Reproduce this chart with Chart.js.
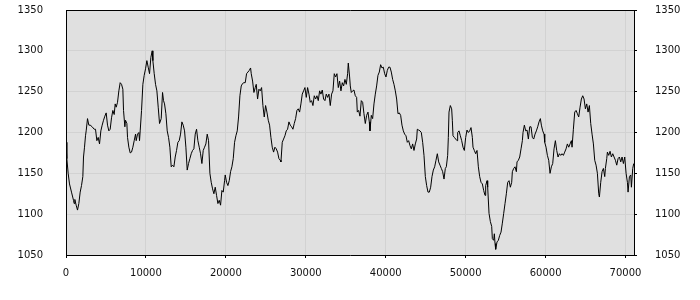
<!DOCTYPE html>
<html>
<head>
<meta charset="utf-8">
<script src="https://cdn.jsdelivr.net/npm/chart.js@4.4.1/dist/chart.umd.min.js"></script>
<style>
  body { margin: 0; background: #fff; }
  canvas { display: block; }
</style>
</head>
<body>
<canvas id="myChart" width="700" height="300"></canvas>
<script>
// Posiciones (eje x), por tramos
const posA = [
  0, 104, 271, 438, 688, 939, 1022, 1105, 1272, 1439,
  1606, 1773, 1940, 2107, 2190, 2315, 2440, 2524, 2691, 2858,
  3025, 3275, 3525, 3692, 3859, 4026, 4193, 4360, 4527, 4693,
  4860, 5027, 5194, 5361, 5528, 5695, 5862, 6028, 6154, 6279,
  6446, 6613, 6779, 6946, 7113, 7197, 7364, 7447, 7614, 7697,
  7864, 8031, 8198, 8365, 8532, 8699, 8782, 8949, 9116, 9199,
  9283, 9450, 9616, 9783, 9950, 10117, 10284, 10451, 10618, 10784,
  10868, 11035, 11202, 11369, 11536, 11702
];
const valA = [
  1188, 1168, 1150, 1137, 1127, 1117, 1113, 1118, 1111, 1105,
  1113, 1127, 1135, 1146, 1170, 1182, 1196, 1202, 1217, 1209,
  1209, 1207, 1204, 1204, 1190, 1194, 1186, 1202, 1209, 1215,
  1220, 1224, 1209, 1202, 1204, 1218, 1227, 1222, 1235, 1231,
  1237, 1251, 1261, 1259, 1253, 1227, 1207, 1215, 1211, 1194,
  1182, 1175, 1176, 1182, 1190, 1198, 1190, 1198, 1200, 1190,
  1202, 1227, 1259, 1270, 1278, 1288, 1280, 1272, 1292, 1300,
  1288, 1272, 1259, 1251, 1231, 1211
];

const posB = [
  11911, 12078, 12203, 12328, 12495, 12662, 12829, 12995, 13162, 13329,
  13496, 13663, 13830, 13997, 14164, 14331, 14497, 14664, 14831, 14998,
  15165, 15332, 15499, 15666, 15832, 15999, 16166, 16333, 16500, 16667,
  16834, 17001, 17167, 17334, 17501, 17668, 17835, 18002, 18169, 18336,
  18503, 18669, 18836, 19003, 19170, 19337, 19504, 19671, 19838, 19921,
  20088, 20255, 20422, 20589, 20755, 20922, 21089, 21256, 21423, 21590,
  21757, 21924, 22090, 22257, 22424, 22591, 22758, 22925, 23092, 23175,
  23342, 23509, 23676
];
const valB = [
  1217, 1249, 1239, 1235, 1223, 1202, 1194, 1182, 1158, 1160,
  1158, 1170, 1178, 1188, 1190, 1198, 1213, 1209, 1202, 1182,
  1154, 1162, 1168, 1174, 1178, 1180, 1198, 1204, 1190, 1182,
  1174, 1162, 1178, 1182, 1186, 1198, 1190, 1150, 1139, 1131,
  1125, 1133, 1123, 1113, 1117, 1111, 1129, 1127, 1141, 1148,
  1139, 1135, 1141, 1152, 1158, 1168, 1188, 1196, 1202, 1219,
  1245, 1257, 1260, 1261, 1261, 1272, 1274, 1276, 1279, 1272,
  1263, 1249, 1255
];

const posC = [
  23801, 23968, 24135, 24301, 24468, 24635, 24802, 24969, 25136, 25303,
  25470, 25636, 25803, 25970, 26137, 26304, 26471, 26638, 26805, 26888,
  27055, 27222, 27389, 27556, 27722, 27889, 28056, 28223, 28390, 28557,
  28724, 28891, 29057, 29224, 29391, 29558, 29725, 29892, 30059, 30226,
  30393, 30559, 30726, 30893, 31060, 31227, 31394, 31561, 31728, 31894,
  32061, 32228, 32395, 32562, 32729, 32896, 33063, 33229, 33396, 33563,
  33730, 33897, 34064, 34231, 34398, 34565, 34731, 34898, 35065, 35232,
  35315, 35482, 35566
];
const valC = [
  1259, 1241, 1253, 1251, 1255, 1233, 1219, 1233, 1225, 1215,
  1209, 1194, 1182, 1176, 1182, 1180, 1176, 1168, 1166, 1164,
  1188, 1192, 1196, 1202, 1204, 1213, 1209, 1207, 1204, 1211,
  1217, 1227, 1229, 1225, 1235, 1247, 1251, 1255, 1243, 1255,
  1247, 1237, 1239, 1233, 1245, 1241, 1245, 1239, 1251, 1247,
  1252, 1241, 1239, 1247, 1243, 1247, 1233, 1247, 1251, 1272,
  1268, 1272, 1255, 1263, 1251, 1261, 1257, 1265, 1259, 1272,
  1285, 1268, 1257
];

const posD = [
  35692, 35859, 36026, 36192, 36359, 36443, 36610, 36776, 36943, 37110,
  37277, 37444, 37611, 37778, 37945, 38028, 38195, 38362, 38529, 38696,
  38862, 39029, 39196, 39363, 39530, 39697, 39864, 40031, 40198, 40364,
  40531, 40698, 40865, 41032, 41199, 41366, 41533, 41699, 41866, 42033,
  42200, 42367, 42534, 42701, 42868, 43034, 43201, 43368, 43535, 43702,
  43869, 43952, 44119, 44286, 44453, 44620, 44787, 44954, 45120, 45287,
  45454, 45621, 45788, 45955, 46122, 46289, 46456, 46622, 46789, 46956,
  47123, 47290, 47457
];
const valD = [
  1249, 1251, 1252, 1245, 1243, 1225, 1227, 1220, 1239, 1237,
  1223, 1211, 1221, 1225, 1213, 1202, 1221, 1217, 1235, 1247,
  1257, 1270, 1274, 1283, 1279, 1280, 1272, 1268, 1276, 1280,
  1280, 1274, 1265, 1259, 1251, 1241, 1223, 1224, 1221, 1209,
  1202, 1198, 1196, 1188, 1190, 1184, 1180, 1186, 1178, 1186,
  1192, 1204, 1203, 1202, 1200, 1188, 1172, 1146, 1135, 1127,
  1127, 1133, 1146, 1154, 1158, 1166, 1174, 1164, 1160, 1156,
  1152, 1143, 1156
];

const posE = [
  47582, 47749, 47832, 47916, 48082, 48249, 48333, 48416, 48583, 48750,
  48917, 49000, 49167, 49334, 49501, 49668, 49835, 50002, 50168, 50335,
  50502, 50669, 50836, 50919, 51086, 51253, 51420, 51587, 51754, 51921,
  52088, 52254, 52421, 52505, 52672, 52755, 52922, 53089, 53256, 53339,
  53506, 53589, 53673, 53756, 53923, 54090, 54257, 54424, 54591, 54758,
  54924, 55091, 55258, 55425, 55592, 55759, 55842, 56009, 56176, 56343,
  56426, 56593, 56760, 56927, 57094, 57177, 57344, 57511, 57678, 57845,
  58012, 58179, 58346, 58512, 58679, 58846, 59013, 59180, 59347
];
const valE = [
  1158, 1172, 1194, 1225, 1233, 1229, 1215, 1196, 1194, 1192,
  1190, 1200, 1202, 1196, 1190, 1182, 1178, 1194, 1203, 1200,
  1202, 1206, 1194, 1182, 1178, 1174, 1178, 1158, 1146, 1139,
  1137, 1129, 1123, 1135, 1141, 1133, 1101, 1091, 1085, 1070,
  1068, 1076, 1064, 1057, 1066, 1068, 1074, 1078, 1089, 1101,
  1113, 1125, 1139, 1141, 1133, 1139, 1152, 1156, 1158, 1152,
  1164, 1166, 1170, 1180, 1190, 1200, 1209, 1202, 1203, 1192,
  1207, 1207, 1194, 1192, 1198, 1202, 1207, 1213, 1217
];

const posF = [
  59472, 59639, 59806, 59889, 60056, 60223, 60390, 60556, 60723, 60890,
  61057, 61224, 61391, 61558, 61725, 61892, 62058, 62225, 62392, 62559,
  62726, 62893, 63060, 63227, 63310, 63477, 63644, 63811, 63978, 64144,
  64311, 64478, 64645, 64812, 64979, 65146, 65313, 65479, 65646, 65813,
  65980, 66147, 66314, 66481, 66648, 66731, 66898, 67065, 67232, 67399,
  67482, 67649, 67732, 67899, 68066, 68233, 68400, 68567, 68734, 68900,
  69067, 69234, 69401, 69568, 69735, 69902, 70069, 70236, 70319, 70486,
  70653, 70736, 70903, 71028
];
const valF = [
  1209, 1202, 1198, 1188, 1182, 1172, 1166, 1150, 1158, 1162,
  1180, 1190, 1178, 1170, 1174, 1172, 1174, 1172, 1176, 1180,
  1186, 1182, 1186, 1190, 1182, 1204, 1225, 1227, 1223, 1219,
  1231, 1241, 1245, 1241, 1229, 1235, 1225, 1233, 1211, 1198,
  1186, 1166, 1160, 1150, 1125, 1121, 1139, 1152, 1156, 1146,
  1156, 1168, 1176, 1172, 1177, 1170, 1174, 1170, 1166, 1160,
  1168, 1170, 1164, 1170, 1162, 1170, 1150, 1139, 1127, 1146,
  1148, 1133, 1156, 1162
];

// Ejes y marcas
const xMin = 0;
const xMax = 71060;
const yMin = 1050;
const yMax = 1350;
const xTicks = [0, 10000, 20000, 30000, 40000, 50000, 60000, 70000];
const yTicks = [1050, 1100, 1150, 1200, 1250, 1300, 1350];

// Unir tramos en una sola serie de puntos
const posiciones = [].concat(posA, posB, posC, posD, posE, posF);
const valores = [].concat(valA, valB, valC, valD, valE, valF);
const puntos = posiciones.map((x, i) => ({ x: x, y: valores[i] }));

// Fondo gris del área de trazado y borde superior
const fondoPlot = {
    id: 'fondoPlot',
    beforeDraw(chart) {
        const { ctx, chartArea: a } = chart;
        ctx.save();
        ctx.fillStyle = '#e0e0e0';
        ctx.fillRect(a.left, a.top, a.right - a.left, a.bottom - a.top);
        ctx.restore();
    },
    afterDraw(chart) {
        const { ctx, chartArea: a } = chart;
        ctx.save();
        ctx.strokeStyle = '#000';
        ctx.lineWidth = 1;
        ctx.beginPath();
        ctx.moveTo(a.left, a.top + 0.5);
        ctx.lineTo(a.right + 1, a.top + 0.5);
        ctx.stroke();
        ctx.restore();
    }
};

const fijarTicks = (valoresTick) => (scale) => {
    scale.ticks = valoresTick.map(v => ({ value: v }));
};

Chart.defaults.font.family = 'DejaVu Sans';
Chart.defaults.font.size = 10;
Chart.defaults.color = '#111';

const ctx = document.getElementById('myChart').getContext('2d');
const chart = new Chart(ctx, {
    type: 'line',
    data: {
        datasets: [{
            data: puntos,
            borderColor: '#000',
            borderWidth: 1,
            pointRadius: 0,
            tension: 0,
            fill: false
        }]
    },
    options: {
        responsive: false,
        animation: false,
        devicePixelRatio: 1,
        layout: { padding: { top: 10, left: 0, right: 0, bottom: 0 } },
        plugins: {
            legend: { display: false },
            tooltip: { enabled: false }
        },
        scales: {
            x: {
                type: 'linear',
                min: xMin,
                max: xMax,
                afterBuildTicks: fijarTicks(xTicks),
                afterFit: (s) => { s.height = 45; s.paddingLeft = 0; s.paddingRight = 0; },
                grid: { color: '#d2d2d2', tickColor: '#000', tickLength: 3 },
                border: { color: '#000' },
                ticks: {
                    autoSkip: false,
                    maxRotation: 0,
                    padding: 9,
                    callback: (v) => String(v)
                }
            },
            y: {
                position: 'left',
                min: yMin,
                max: yMax,
                afterBuildTicks: fijarTicks(yTicks),
                afterFit: (s) => { s.width = 66; s.paddingTop = 0; s.paddingBottom = 0; },
                grid: { color: '#d2d2d2', drawTicks: false },
                border: { color: '#000' },
                ticks: { autoSkip: false, padding: 23, callback: (v) => String(v) }
            },
            y2: {
                position: 'right',
                min: yMin,
                max: yMax,
                afterBuildTicks: fijarTicks(yTicks),
                afterFit: (s) => { s.width = 66; s.paddingTop = 0; s.paddingBottom = 0; },
                grid: { drawOnChartArea: false, tickColor: '#000', tickLength: 3 },
                border: { color: '#000' },
                ticks: { autoSkip: false, padding: 18, callback: (v) => String(v) }
            }
        }
    },
    plugins: [fondoPlot]
});
</script>
</body>
</html>
